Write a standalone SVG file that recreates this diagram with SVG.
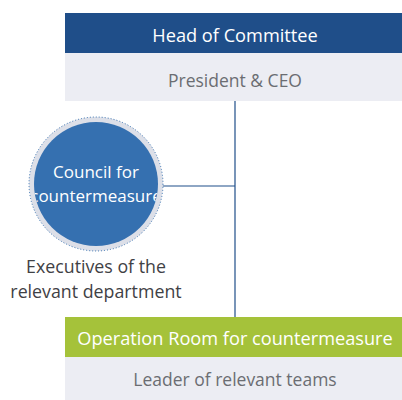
<svg xmlns="http://www.w3.org/2000/svg" width="402" height="400" viewBox="0 0 402 400">
<defs>
<style>
.t{font-family:"Open Sans","Noto Sans",sans-serif;text-anchor:middle}
.w{fill:#ffffff;font-size:18.2px}
.g{fill:#6b6d72;font-size:17.5px}
.d{fill:#3f4145;font-size:17.8px}
</style>
<clipPath id="cc"><circle cx="96" cy="184" r="62"/></clipPath>
</defs>
<rect width="402" height="400" fill="#ffffff"/>
<g id="connectors" stroke="#1f4e89" stroke-width="1.2" fill="none">
<line x1="235" y1="101" x2="235" y2="317"/>
<line x1="160" y1="186" x2="235" y2="186"/>
</g>
<g id="head">
<rect x="65" y="13" width="337" height="40" fill="#1f4e89"/>
<rect x="65" y="53" width="337" height="48" fill="#ecedf3"/>
<text class="t w" x="235" y="42">Head of Committee</text>
<text class="t g" x="235" y="87">President &amp; CEO</text>
</g>
<g id="council">
<circle cx="96" cy="184" r="67" fill="#dcdfe8" stroke="#3570b0" stroke-width="1" stroke-dasharray="1 2"/>
<circle cx="96" cy="184" r="62" fill="#3570b0"/>
<g clip-path="url(#cc)">
<text class="t w" x="96" y="178" style="font-size:17px">Council for</text>
<text class="t w" x="96" y="202" style="font-size:17px">countermeasure</text>
</g>
<text class="t d" x="96" y="273">Executives of the</text>
<text class="t d" x="96" y="298">relevant department</text>
</g>
<g id="operation">
<rect x="65" y="317" width="337" height="40" fill="#a5c23a"/>
<rect x="65" y="357" width="337" height="43" fill="#ecedf3"/>
<text class="t w" x="235" y="345">Operation Room for countermeasure</text>
<text class="t g" x="235" y="386">Leader of relevant teams</text>
</g>
</svg>
